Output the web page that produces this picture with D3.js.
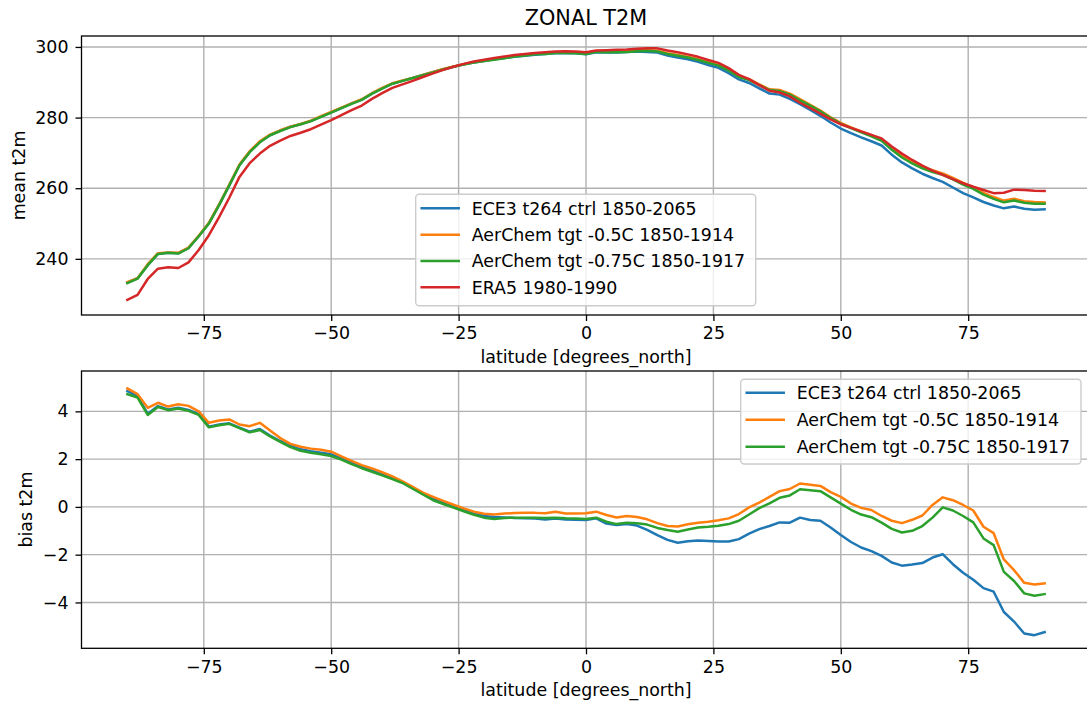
<!DOCTYPE html>
<html>
<head>
<meta charset="utf-8">
<script src="https://cdn.jsdelivr.net/npm/d3@7"></script>
<style>
  body { margin: 0; background: #fff; }
  text { font-family: "DejaVu Sans", sans-serif; fill: #000; }
</style>
</head>
<body>
<svg id="fig" width="1087" height="709"></svg>
<script>
// Latitudes of the zonal means (degrees north)
const latitudes = [
  -90, -88, -86, -84, -82, -80, -78, -76, -74, -72,
  -70, -68, -66, -64, -62, -60, -58, -56, -54, -52,
  -50, -48, -46, -44, -42, -40, -38, -36, -34, -32,
  -30, -28, -26, -24, -22, -20, -18, -16, -14, -12,
  -10, -8, -6, -4, -2, 0, 2, 4, 6, 8,
  10, 12, 14, 16, 18, 20, 22, 24, 26, 28,
  30, 32, 34, 36, 38, 40, 42, 44, 46, 48,
  50, 52, 54, 56, 58, 60, 62, 64, 66, 68,
  70, 72, 74, 76, 78, 80, 82, 84, 86, 88,
  90
];

// Zonal mean 2 m temperature (K)
const ctrlT2m = [
  233.3, 234.5, 238.2, 241.4, 241.7, 241.6, 243.1, 246.4, 250.1, 255.3,
  260.8, 266.5, 270.3, 273.1, 275.0, 276.3, 277.4, 278.1, 279.0, 280.3,
  281.5, 282.7, 284.0, 285.1, 286.8, 288.3, 289.6, 290.4, 291.2, 292.1,
  292.9, 293.7, 294.4, 295.1, 295.6, 296.0, 296.5, 296.9, 297.2, 297.5,
  297.8, 298.0, 298.2, 298.3, 298.2, 297.9, 298.5, 298.4, 298.4, 298.6,
  298.7, 298.6, 298.4, 297.6, 297.0, 296.5, 295.8, 294.9, 294.1, 292.6,
  290.8, 289.8, 288.3, 286.8, 286.5, 285.3, 283.8, 282.2, 280.5, 278.6,
  276.9, 275.6, 274.4, 273.3, 272.1, 269.5, 267.3, 265.6, 264.1, 262.9,
  261.8, 260.2, 258.6, 257.4, 256.1, 255.1, 254.3, 254.8, 254.2, 253.9,
  254.0
];
const tgt05T2m = [
  233.4, 234.5, 238.5, 241.6, 241.8, 241.7, 243.2, 246.5, 250.2, 255.4,
  261.0, 266.7, 270.5, 273.3, 275.2, 276.4, 277.4, 278.2, 279.1, 280.4,
  281.6, 282.8, 284.0, 285.2, 286.9, 288.4, 289.7, 290.5, 291.2, 292.1,
  292.9, 293.8, 294.5, 295.1, 295.7, 296.1, 296.6, 297.0, 297.4, 297.8,
  298.1, 298.2, 298.5, 298.5, 298.4, 298.2, 298.8, 298.8, 298.8, 298.9,
  299.1, 299.1, 298.9, 298.2, 297.7, 297.2, 296.5, 295.7, 294.9, 293.5,
  291.8, 290.9, 289.4, 288.0, 287.8, 286.8, 285.2, 283.6, 282.0, 280.1,
  278.5, 277.2, 276.1, 275.0, 273.7, 271.2, 269.1, 267.5, 266.0, 265.1,
  264.2, 262.9, 261.5, 260.3, 258.7, 257.5, 256.5, 257.0, 256.3, 256.1,
  256.0
];
const tgt075T2m = [
  233.1, 234.4, 238.2, 241.4, 241.7, 241.5, 243.0, 246.4, 250.0, 255.2,
  260.8, 266.5, 270.2, 273.0, 275.0, 276.2, 277.3, 278.1, 279.0, 280.2,
  281.4, 282.7, 283.9, 285.0, 286.8, 288.2, 289.6, 290.4, 291.2, 292.0,
  292.8, 293.6, 294.4, 295.0, 295.6, 296.0, 296.4, 296.8, 297.3, 297.6,
  297.9, 298.0, 298.3, 298.3, 298.2, 298.0, 298.6, 298.5, 298.5, 298.6,
  298.8, 298.9, 298.7, 298.0, 297.5, 297.0, 296.3, 295.5, 294.7, 293.3,
  291.5, 290.6, 289.2, 287.8, 287.5, 286.5, 284.9, 283.4, 281.8, 279.9,
  278.2, 277.0, 275.8, 274.7, 273.4, 270.9, 268.7, 267.0, 265.6, 264.6,
  263.8, 262.5, 261.0, 259.8, 258.2, 257.0, 256.0, 256.5, 255.9, 255.6,
  255.6
];
const era5T2m = [
  228.4, 229.8, 234.3, 237.2, 237.6, 237.4, 239.0, 242.5, 246.7, 251.8,
  257.3, 263.2, 267.1, 269.8, 272.0, 273.5, 274.8, 275.7, 276.7, 278.0,
  279.3, 280.7, 282.1, 283.4, 285.3, 286.9, 288.4, 289.4, 290.4, 291.5,
  292.5, 293.5, 294.4, 295.2, 295.9, 296.4, 296.9, 297.3, 297.7, 298.0,
  298.3, 298.5, 298.7, 298.8, 298.7, 298.5, 299.0, 299.1, 299.2, 299.3,
  299.5, 299.6, 299.6, 299.0, 298.5, 297.9, 297.2, 296.3, 295.5, 294.0,
  292.1, 290.9, 289.2, 287.6, 287.1, 286.0, 284.2, 282.7, 281.1, 279.5,
  278.1, 277.1, 276.1, 275.1, 274.1, 271.8, 269.8, 268.0, 266.4, 265.0,
  263.8, 262.6, 261.4, 260.4, 259.5, 258.6, 258.7, 259.6, 259.5, 259.3,
  259.2
];

// Bias against ERA5 (K)
const ctrlBias = [
  4.85, 4.65, 3.90, 4.22, 4.08, 4.15, 4.06, 3.88, 3.36, 3.45,
  3.50, 3.32, 3.15, 3.26, 2.99, 2.76, 2.56, 2.41, 2.33, 2.27,
  2.20, 2.03, 1.85, 1.68, 1.52, 1.37, 1.20, 1.03, 0.80, 0.56,
  0.35, 0.17, 0.01, -0.14, -0.28, -0.38, -0.42, -0.44, -0.46, -0.47,
  -0.49, -0.53, -0.49, -0.53, -0.54, -0.55, -0.48, -0.70, -0.76, -0.72,
  -0.78, -0.96, -1.18, -1.38, -1.50, -1.44, -1.41, -1.43, -1.45, -1.45,
  -1.35, -1.12, -0.93, -0.80, -0.65, -0.66, -0.45, -0.55, -0.58, -0.86,
  -1.18, -1.47, -1.70, -1.85, -2.05, -2.33, -2.46, -2.41, -2.35, -2.12,
  -1.98, -2.40, -2.76, -3.05, -3.40, -3.55, -4.40, -4.80, -5.30, -5.37,
  -5.24
];
const tgt05Bias = [
  4.96, 4.72, 4.15, 4.36, 4.20, 4.30, 4.23, 4.00, 3.52, 3.62,
  3.66, 3.45, 3.38, 3.52, 3.20, 2.88, 2.64, 2.52, 2.44, 2.39,
  2.31, 2.12, 1.93, 1.75, 1.61, 1.45, 1.28, 1.07, 0.84, 0.60,
  0.42, 0.25, 0.09, -0.06, -0.20, -0.29, -0.32, -0.28, -0.26, -0.25,
  -0.25, -0.27, -0.20, -0.28, -0.28, -0.27, -0.20, -0.34, -0.44, -0.38,
  -0.42, -0.52, -0.68, -0.80, -0.82, -0.73, -0.66, -0.62, -0.56, -0.48,
  -0.30, -0.02, 0.18, 0.42, 0.66, 0.75, 0.98, 0.93, 0.88, 0.62,
  0.42, 0.14, -0.04, -0.13, -0.38, -0.58, -0.68, -0.54, -0.36, 0.08,
  0.40, 0.28, 0.08, -0.15, -0.83, -1.10, -2.20, -2.65, -3.18, -3.25,
  -3.20
];
const tgt075Bias = [
  4.72, 4.58, 3.85, 4.18, 4.05, 4.12, 4.02, 3.85, 3.33, 3.42,
  3.48, 3.30, 3.12, 3.22, 2.95, 2.72, 2.50, 2.35, 2.27, 2.20,
  2.13, 1.98, 1.79, 1.62, 1.47, 1.32, 1.16, 1.00, 0.76, 0.52,
  0.28, 0.12, -0.03, -0.18, -0.33, -0.45, -0.51, -0.46, -0.45, -0.45,
  -0.45, -0.46, -0.45, -0.48, -0.49, -0.51, -0.45, -0.62, -0.72, -0.66,
  -0.68, -0.74, -0.88, -0.97, -1.04, -0.95, -0.86, -0.83, -0.79, -0.72,
  -0.58, -0.32, -0.05, 0.15, 0.38, 0.48, 0.74, 0.70, 0.66, 0.40,
  0.14, -0.12, -0.32, -0.43, -0.66, -0.92, -1.07, -1.00, -0.80, -0.45,
  -0.02, -0.15, -0.38, -0.65, -1.32, -1.60, -2.72, -3.10, -3.62, -3.72,
  -3.65
];

const seriesNames = [
  "ECE3 t264 ctrl 1850-2065",
  "AerChem tgt -0.5C 1850-1914",
  "AerChem tgt -0.75C 1850-1917",
  "ERA5 1980-1990"
];
const seriesColors = ["#1f77b4", "#ff7f0e", "#2ca02c", "#d62728"];

const xTicks = [-75, -50, -25, 0, 25, 50, 75];
const yTicksTop = [240, 260, 280, 300];
const yTicksBottom = [-4, -2, 0, 2, 4];

// ---------------------------------------------------------------
const FS = 17.4;           // base font size (px)
const svg = d3.select("#fig");
svg.append("rect").attr("width", 1087).attr("height", 709).attr("fill", "#fff");

const x = d3.scaleLinear().domain([-99, 99]).range([81.5, 1090.5]);

function drawPanel(opts) {
  const { y, top, bottom, yTicks, series, ylabel, ylabelX, legend } = opts;
  const g = svg.append("g");
  const left = x.range()[0], right = x.range()[1];

  // grid
  g.append("g").selectAll("line").data(xTicks).join("line")
    .attr("x1", d => x(d)).attr("x2", d => x(d))
    .attr("y1", top).attr("y2", bottom)
    .attr("stroke", "#b0b0b0").attr("stroke-width", 1.4);
  g.append("g").selectAll("line").data(yTicks).join("line")
    .attr("x1", left).attr("x2", right)
    .attr("y1", d => y(d)).attr("y2", d => y(d))
    .attr("stroke", "#b0b0b0").attr("stroke-width", 1.4);

  // data lines
  const line = d3.line().x((d, i) => x(latitudes[i])).y(d => y(d));
  series.forEach((s, k) => {
    g.append("path").datum(s.values)
      .attr("d", line)
      .attr("fill", "none")
      .attr("stroke", s.color)
      .attr("stroke-width", 2.5)
      .attr("stroke-linejoin", "round")
      .attr("stroke-linecap", "square");
  });

  // spines
  g.append("rect")
    .attr("x", left).attr("y", top)
    .attr("width", right - left).attr("height", bottom - top)
    .attr("fill", "none").attr("stroke", "#000").attr("stroke-width", 1.3);

  // axes
  const fmt = d3.format("d");
  const xAxis = g.append("g").attr("transform", `translate(0,${bottom})`)
    .call(d3.axisBottom(x).tickValues(xTicks).tickFormat(fmt).tickSize(6).tickPadding(6));
  const yAxis = g.append("g").attr("transform", `translate(${left},0)`)
    .call(d3.axisLeft(y).tickValues(yTicks).tickFormat(fmt).tickSize(6).tickPadding(7));
  [xAxis, yAxis].forEach(a => {
    a.select(".domain").remove();
    a.selectAll(".tick line").attr("stroke", "#000").attr("stroke-width", 1.3);
    a.selectAll(".tick text").attr("font-size", FS).attr("fill", "#000")
      .attr("font-family", "DejaVu Sans");
  });

  // axis labels
  g.append("text")
    .attr("x", (left + 1090.5) / 2).attr("y", bottom + 48)
    .attr("text-anchor", "middle").attr("font-size", FS)
    .text("latitude [degrees_north]");
  g.append("text")
    .attr("transform", `translate(${ylabelX},${(top + bottom) / 2}) rotate(-90)`)
    .attr("text-anchor", "middle").attr("font-size", FS)
    .text(ylabel);

  // legend
  const lg = g.append("g");
  lg.append("rect")
    .attr("x", legend.x0).attr("y", legend.y0)
    .attr("width", legend.x1 - legend.x0).attr("height", legend.y1 - legend.y0)
    .attr("rx", 3.5).attr("ry", 3.5)
    .attr("fill", "#fff").attr("fill-opacity", 0.8)
    .attr("stroke", "#cccccc").attr("stroke-width", 1.4);
  series.forEach((s, k) => {
    const ry = legend.row0 + k * legend.step;
    lg.append("line")
      .attr("x1", legend.x0 + 6).attr("x2", legend.x0 + 43)
      .attr("y1", ry).attr("y2", ry)
      .attr("stroke", s.color).attr("stroke-width", 2.5)
      .attr("stroke-linecap", "square");
    lg.append("text")
      .attr("x", legend.x0 + 56).attr("y", ry + 6.5)
      .attr("font-size", FS)
      .text(s.name);
  });
}

// title
svg.append("text")
  .attr("x", 586).attr("y", 25)
  .attr("text-anchor", "middle").attr("font-size", 20.8)
  .text("ZONAL T2M");

// top panel: mean t2m
const yTop = d3.scaleLinear().domain([224.1, 303.1]).range([315, 36]);
drawPanel({
  y: yTop, top: 36, bottom: 315, yTicks: yTicksTop,
  ylabel: "mean t2m", ylabelX: 25,
  series: [ctrlT2m, tgt05T2m, tgt075T2m, era5T2m].map((v, i) => ({
    values: v, color: seriesColors[i], name: seriesNames[i]
  })),
  legend: { x0: 415.7, x1: 755.7, y0: 194.3, y1: 305.7, row0: 208.3, step: 26.33 }
});

// bottom panel: bias t2m
const yBot = d3.scaleLinear().domain([-5.92, 5.69]).range([648.3, 371]);
drawPanel({
  y: yBot, top: 371, bottom: 648.3, yTicks: yTicksBottom,
  ylabel: "bias t2m", ylabelX: 31.5,
  series: [ctrlBias, tgt05Bias, tgt075Bias].map((v, i) => ({
    values: v, color: seriesColors[i], name: seriesNames[i]
  })),
  legend: { x0: 740.7, x1: 1081, y0: 379.3, y1: 464, row0: 392.7, step: 27 }
});
</script>
</body>
</html>
